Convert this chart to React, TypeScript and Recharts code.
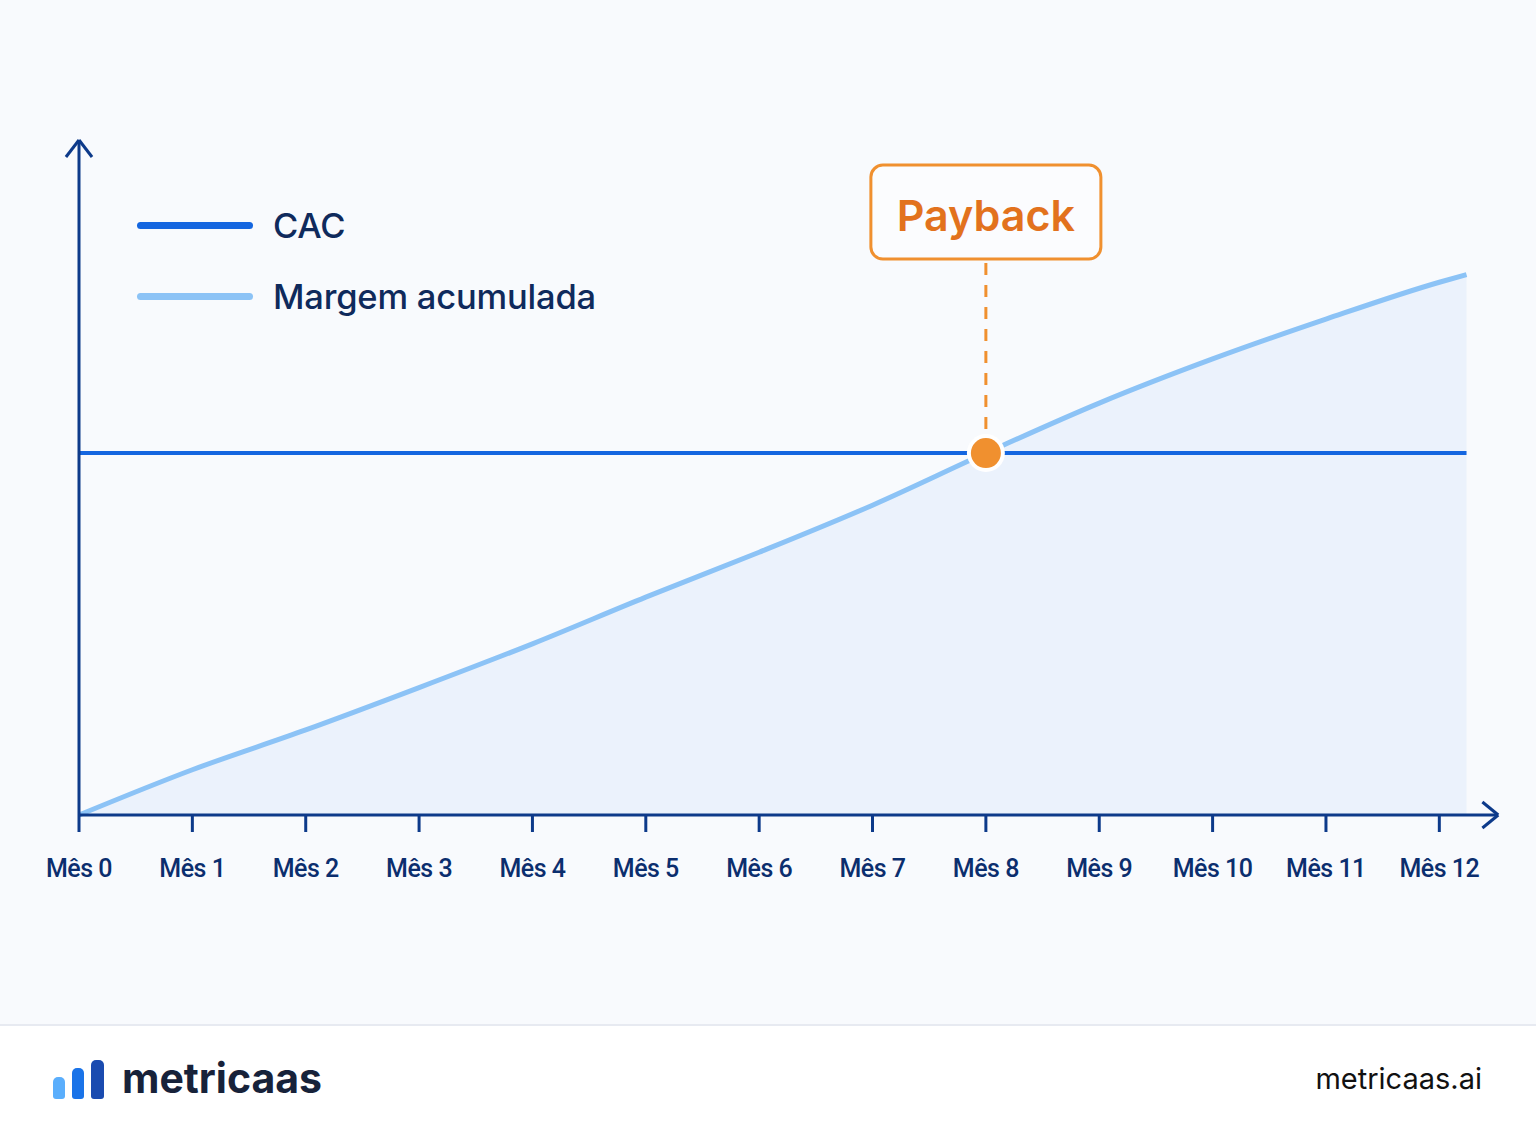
import { ComposedChart, Area, Line, XAxis, YAxis, ReferenceDot, ReferenceLine, Legend } from "recharts";

// meses (o último ponto é onde a curva termina, um pouco depois do Mês 12)
const meses = [0, 1, 2, 3, 4, 5, 6, 7, 8, 9, 10, 11, 12, 12.24];
const margem = [0, 12.5, 23.5, 35.2, 47.3, 60.2, 72.6, 85.6, 100, 113.8, 126, 137, 147.2, 149.3];
const cac = [100, 100, 100, 100, 100, 100, 100, 100, 100, 100, 100, 100, 100, 100];
const tickMeses = [0, 1, 2, 3, 4, 5, 6, 7, 8, 9, 10, 11, 12];
const payback = { mes: 8, valor: 100, label: "Payback" };
const legendOrder = ["CAC", "Margem acumulada"];

const data = meses.map((m, i) => ({ mes: m, margem: margem[i], cac: cac[i] }));

const NAVY = "#0d3a8a";
const CAC_BLUE = "#1466e0";
const MARGEM_BLUE = "#8cc3f6";
const ORANGE = "#f0902f";

function LegendBox({ payload }: any) {
  const items = [...(payload || [])].sort(
    (a: any, b: any) => legendOrder.indexOf(a.value) - legendOrder.indexOf(b.value)
  );
  return (
    <div>
      {items.map((it: any) => (
        <div key={it.value} style={{ display: "flex", alignItems: "center", height: 71 }}>
          <div style={{ width: 116, height: 7, borderRadius: 4, background: it.color, marginRight: 20 }} />
          <span style={{ fontFamily: "Inter", fontWeight: 500, fontSize: 34.5, letterSpacing: -0.2, color: "#0f2a5c" }}>
            {it.value}
          </span>
        </div>
      ))}
    </div>
  );
}

function PaybackMark(p: any) {
  const { cx, cy } = p;
  return (
    <g>
      <line x1={cx} y1={cy - 24} x2={cx} y2={cy - 194} stroke={ORANGE} strokeWidth={3} strokeDasharray="12 10" />
      <rect x={cx - 115} y={cy - 288} width={230} height={94} rx={12} fill="#fbfcfe" stroke={ORANGE} strokeWidth={3} />
      <text x={cx} y={cy - 222} textAnchor="middle" fontFamily="Inter" fontWeight={600} fontSize={43} fill="#e2721d">
        {payback.label}
      </text>
      <circle cx={cx} cy={cy} r={19} fill="#ffffff" />
      <circle cx={cx} cy={cy} r={15} fill={ORANGE} />
    </g>
  );
}

export default function App() {
  return (
    <div style={{ position: "absolute", left: 0, top: 0, width: 1536, height: 1136, background: "#ffffff" }}>
      <div style={{ width: 1536, height: 1024, background: "#f8fafd", borderBottom: "2px solid #e7eaf1", position: "relative" }}>
        <ComposedChart width={1536} height={1024} data={data} margin={{ top: 140, right: 40, bottom: 149, left: 79 }}>
          <XAxis
            dataKey="mes"
            type="number"
            domain={[0, 12.5]}
            ticks={tickMeses}
            tickFormatter={(m) => `Mês ${m}`}
            interval={0}
            height={60}
            axisLine={{ stroke: NAVY, strokeWidth: 3 }}
            tickLine={{ stroke: NAVY, strokeWidth: 3 }}
            tickSize={17}
            tickMargin={27}
            tick={{ fill: "#0b2e6e", fontSize: 25, fontWeight: 500, fontFamily: "Roboto", letterSpacing: -0.5 }}
          />
          <YAxis type="number" domain={[0, 186.5]} hide />
          <Legend
            layout="vertical"
            align="center"
            verticalAlign="middle"
            content={<LegendBox />}
            wrapperStyle={{ top: 190, left: 137, width: 600 }}
          />
          <Area
            type="monotone"
            dataKey="margem"
            name="Margem acumulada"
            stroke={MARGEM_BLUE}
            strokeWidth={5}
            fill="#ebf2fc"
            fillOpacity={1}
            dot={false}
            activeDot={false}
            isAnimationActive={false}
          />
          <Line
            type="linear"
            dataKey="cac"
            name="CAC"
            stroke={CAC_BLUE}
            strokeWidth={4}
            dot={false}
            activeDot={false}
            isAnimationActive={false}
          />
          {/* eixo Y e setas dos eixos */}
          <ReferenceLine segment={[{ x: 0, y: 0 }, { x: 0, y: 186.5 }]} stroke={NAVY} strokeWidth={3} ifOverflow="visible" />
          <ReferenceLine segment={[{ x: -0.115, y: 181.8 }, { x: 0, y: 186.5 }]} stroke={NAVY} strokeWidth={3} ifOverflow="visible" />
          <ReferenceLine segment={[{ x: 0.115, y: 181.8 }, { x: 0, y: 186.5 }]} stroke={NAVY} strokeWidth={3} ifOverflow="visible" />
          <ReferenceLine segment={[{ x: 12.38, y: 3.6 }, { x: 12.52, y: 0 }]} stroke={NAVY} strokeWidth={3} ifOverflow="visible" />
          <ReferenceLine segment={[{ x: 12.38, y: -3.6 }, { x: 12.52, y: 0 }]} stroke={NAVY} strokeWidth={3} ifOverflow="visible" />
          <ReferenceDot x={payback.mes} y={payback.valor} r={15} shape={PaybackMark} ifOverflow="visible" />
        </ComposedChart>
      </div>
      <div style={{ position: "relative", height: 110 }}>
        <div style={{ position: "absolute", left: 53, top: 34, display: "flex", alignItems: "flex-end", gap: 7 }}>
          <div style={{ width: 12, height: 22, borderRadius: "5px 5px 3px 3px", background: "#5aaefc" }} />
          <div style={{ width: 12, height: 31, borderRadius: "5px 5px 3px 3px", background: "#1a73e8" }} />
          <div style={{ width: 13, height: 39, borderRadius: "5px 5px 3px 3px", background: "#1a4bb0" }} />
        </div>
        <div style={{ position: "absolute", left: 122, top: 27, fontFamily: "Inter", fontWeight: 700, fontSize: 41, color: "#17223a" }}>
          metricaas
        </div>
        <div style={{ position: "absolute", right: 54, top: 35, fontFamily: "Inter", fontSize: 29, color: "#111111" }}>
          metricaas.ai
        </div>
      </div>
    </div>
  );
}
